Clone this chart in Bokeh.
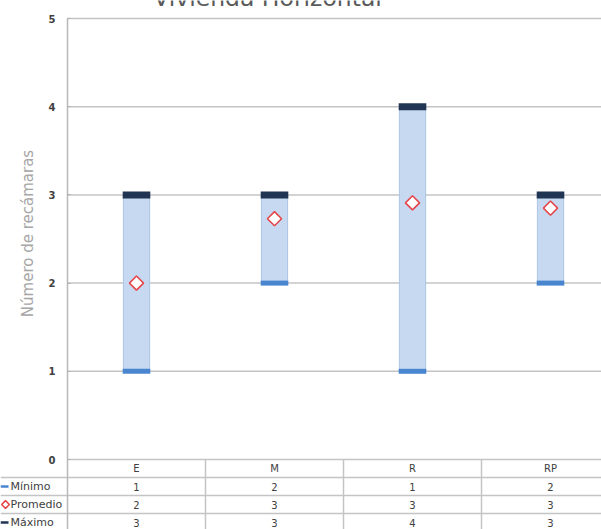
from math import pi

from bokeh.core.properties import value
from bokeh.embed import file_html
from bokeh.models import FixedTicker, LinearAxis, Range1d
from bokeh.plotting import figure
from bokeh.resources import INLINE

# Bedrooms per housing type: minimum, average and maximum
categorias = ["E", "M", "R", "RP"]
minimo = [1, 2, 1, 2]
promedio = [2.0, 2.73, 2.91, 2.85]
maximo = [3, 3, 4, 3]
y_ticks = [0, 1, 2, 3, 4, 5]
series = ["Mínimo", "Promedio", "Máximo"]
titulo = "Vivienda Horizontal"
eje_y = "Número de recámaras"

xs = list(range(len(categorias)))

W, H = 601, 529
CAT_PX = 138.0          # width of one category slot
AXIS_PX = 67            # horizontal position of the value axis
ZERO_PX = 459           # pixel row of y = 0
TOP_PX = 18             # pixel row of y = 5
UNIT_PX = (ZERO_PX - TOP_PX) / 5.0
ROW_PX = 18             # height of a data-table row

GRID = "#c4c4c4"
TXT = "#404040"
C_MIN = "#4a86d0"
C_MAX = "#1f3553"
C_AVG = "#e5474c"
FONT = "DejaVu Sans"
tfont = value(FONT)


def xpx(px):
    """x data value at a horizontal pixel position."""
    return -0.5 + (px - AXIS_PX) / CAT_PX


def ypx(px):
    """y data value at a vertical pixel position."""
    return (ZERO_PX - px) / UNIT_PX


x0, x_end = xpx(0), xpx(W)
y_bot, y_top = ypx(H), ypx(0)
row_h = ROW_PX / UNIT_PX
x_axis = -0.5

p = figure(
    width=W, height=H,
    x_range=Range1d(x0, x_end),
    y_range=Range1d(y_bot, y_top),
    x_axis_location=None, y_axis_location=None,
    toolbar_location=None, output_backend="svg",
    min_border=0,
)
p.outline_line_color = None
p.background_fill_color = "white"
p.xgrid.visible = False
p.ygrid.visible = False

# value axis pinned at the left edge of the category area
ax = LinearAxis(
    fixed_location=x_axis, bounds=(y_bot, 5),
    ticker=FixedTicker(ticks=y_ticks),
    axis_line_color="#b8b8b8", axis_line_width=1.5,
    major_tick_in=0, major_tick_out=3, major_tick_line_color="#b0b0b0",
    minor_tick_line_color=None,
    major_label_standoff=-22,
    major_label_text_font=FONT, major_label_text_font_size="10px",
    major_label_text_font_style="bold", major_label_text_color=TXT,
)
p.add_layout(ax, "right")

# horizontal grid lines at the value ticks
p.segment(x0=[x_axis] * len(y_ticks), x1=[x_end] * len(y_ticks),
          y0=y_ticks, y1=y_ticks, line_color=GRID, line_width=1.5)

# chart title (runs off the top edge) and value-axis title
p.text(x=[xpx(267)], y=[ypx(-2.5)], text=[titulo], text_font=tfont,
       text_font_size="23.5px", text_color="#595959",
       text_align="center", text_baseline="middle")
p.text(x=[xpx(27)], y=[ypx(233)], text=[eje_y], angle=pi / 2,
       text_font=tfont, text_font_size="15px", text_color="#a6a6a6",
       text_align="center", text_baseline="middle")

# min-to-max range bars
p.vbar(x=xs, bottom=minimo, top=maximo, width=0.19,
       fill_color="#c6d9f1", line_color="#abc4e4", line_width=1)
# maximum caps
p.rect(x=xs, y=maximo, width=0.2, height=7, height_units="screen",
       fill_color=C_MAX, line_color=None)
# minimum caps
p.rect(x=xs, y=minimo, width=0.2, height=5, height_units="screen",
       fill_color=C_MIN, line_color=None)
# average markers
p.scatter(x=xs, y=promedio, marker="square", angle=pi / 4, size=10,
          fill_color="white", line_color=C_AVG, line_width=1.6)

# ---------------- data table under the chart ----------------
n_rows = len(series) + 1
rule_y = [-r * row_h for r in range(1, n_rows)]
p.segment(x0=[x0] * len(rule_y), x1=[x_end] * len(rule_y),
          y0=rule_y, y1=rule_y, line_color=GRID, line_width=1.5)
col_edges = [i + 0.5 for i in range(len(categorias))]
p.segment(x0=col_edges, x1=col_edges, y0=[0] * len(col_edges),
          y1=[y_bot] * len(col_edges), line_color=GRID, line_width=1.5)

p.text(x=xs, y=[-0.5 * row_h] * len(xs), text=categorias, text_font=tfont,
       text_font_size="10px", text_color=TXT,
       text_align="center", text_baseline="middle")
for r, vals in enumerate([minimo, promedio, maximo], start=1):
    p.text(x=xs, y=[-(r + 0.5) * row_h] * len(xs),
           text=[f"{v:.0f}" for v in vals], text_font=tfont,
           text_font_size="10px", text_color=TXT,
           text_align="center", text_baseline="middle")

# row headers with their legend keys
row_c = [-(r + 0.5) * row_h for r in range(1, n_rows)]
p.text(x=[xpx(10)] * len(series), y=row_c, text=series, text_font=tfont,
       text_font_size="11px", text_color=TXT,
       text_align="left", text_baseline="middle")
p.rect(x=[xpx(4)] * 2, y=[row_c[0], row_c[2]], width=8, height=2.5,
       width_units="screen", height_units="screen",
       fill_color=[C_MIN, C_MAX], line_color=None)
p.scatter(x=[xpx(5)], y=[row_c[1]], marker="square", angle=pi / 4, size=5.5,
          fill_color="white", line_color=C_AVG, line_width=1.6)

with open("out.html", "w") as f:
    f.write(file_html(p, INLINE))
